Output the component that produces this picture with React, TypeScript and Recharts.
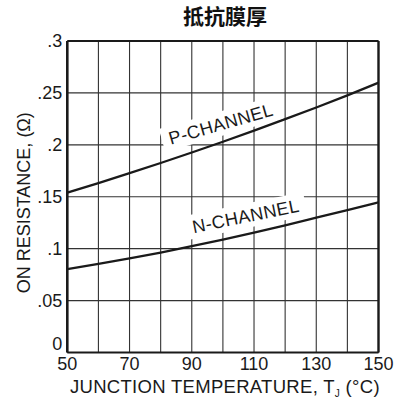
import React from "react";
import {
  LineChart,
  Line,
  XAxis,
  YAxis,
  CartesianGrid,
  ReferenceLine,
  ReferenceDot,
} from "recharts";

const temperatures = [50, 60, 70, 80, 90, 100, 110, 120, 130, 140, 150];
const pChannel = [0.154, 0.1632, 0.1727, 0.1825, 0.1926, 0.203, 0.2137, 0.2247, 0.236, 0.2477, 0.2598];
const nChannel = [0.0804, 0.0853, 0.0906, 0.0963, 0.1024, 0.1088, 0.1155, 0.1225, 0.1298, 0.1372, 0.1447];

const xTicks = [50, 60, 70, 80, 90, 100, 110, 120, 130, 140, 150];
const xTickLabels = ["50", "", "70", "", "90", "", "110", "", "130", "", "150"];
const yTicks = [0, 0.05, 0.1, 0.15, 0.2, 0.25, 0.3];
const yTickLabels = ["0", ".05", ".1", ".15", ".2", ".25", ".3"];

const curveLabelTexts = ["P-CHANNEL", "N-CHANNEL"];
const curveLabelX = [99.3, 107.3];
const curveLabelY = [0.2203, 0.1315];
const curveLabelAngle = [-16, -11.5];

const title = "抵抗膜厚";
const yTitle = "ON RESISTANCE, (Ω)";

const data = temperatures.map((t, i) => ({ t, p: pChannel[i], n: nChannel[i] }));

const FONT = "'Liberation Sans', Arial, Helvetica, sans-serif";
const INK = "#1a1a1a";

const XTick = (props: any) => {
  const { x, y, payload } = props;
  const idx = xTicks.indexOf(payload.value);
  const label = idx >= 0 ? xTickLabels[idx] : "";
  if (!label) return null;
  return (
    <text x={x} y={y} dy={17} textAnchor="middle" fontSize={18} fontFamily={FONT} fill={INK}>
      {label}
    </text>
  );
};

const YTick = (props: any) => {
  const { x, y, payload } = props;
  const idx = yTicks.indexOf(payload.value);
  const label = idx >= 0 ? yTickLabels[idx] : "";
  const dy = payload.value === 0 ? -2.5 : 6;
  return (
    <text x={x} y={y} dy={dy} textAnchor="end" fontSize={18} fontFamily={FONT} fill={INK}>
      {label}
    </text>
  );
};

const XTitle = (props: any) => {
  const vb = props.viewBox || { x: 67, y: 352, width: 312, height: 46 };
  const cx = vb.x + vb.width / 2 + 2;
  return (
    <text
      x={cx}
      y={392.5}
      textAnchor="middle"
      fontSize={18.5}
      letterSpacing={0.3}
      fontFamily={FONT}
      fill={INK}
    >
      <tspan>JUNCTION TEMPERATURE, T</tspan>
      <tspan fontSize={10} dy={4}>J</tspan>
      <tspan fontSize={18.5} dy={-4}>{" (°C)"}</tspan>
    </text>
  );
};

const YTitle = (props: any) => {
  const vb = props.viewBox || { x: 0, y: 41, width: 67, height: 312 };
  const cy = vb.y + vb.height / 2 + 6;
  return (
    <text
      x={30}
      y={cy}
      transform={`rotate(-90, 30, ${cy})`}
      textAnchor="middle"
      fontSize={18}
      fontFamily={FONT}
      fill={INK}
    >
      {yTitle}
    </text>
  );
};

const makeLabelShape = (i: number) => (props: any) => {
  const { cx, cy } = props;
  const w = curveLabelTexts[i].length * 12 + 14;
  return (
    <g transform={`translate(${cx},${cy}) rotate(${curveLabelAngle[i]})`}>
      <rect x={-w / 2} y={-12} width={w} height={24} fill="#ffffff" />
      <text
        x={0}
        y={0}
        dy={6.5}
        textAnchor="middle"
        fontSize={18}
        letterSpacing={0.4}
        fontFamily={FONT}
        fill={INK}
      >
        {curveLabelTexts[i]}
      </text>
    </g>
  );
};

export default function App() {
  return (
    <div style={{ position: "absolute", left: 0, top: 0, width: 396, height: 399, background: "#fff" }}>
      <div
        style={{
          position: "absolute",
          left: 125,
          width: 200,
          top: 0,
          textAlign: "center",
          fontFamily: "'Noto Sans CJK SC', sans-serif",
          fontWeight: 700,
          fontSize: 21,
          color: "#111",
          lineHeight: "normal",
        }}
      >
        {title}
      </div>
      <LineChart
        width={396}
        height={399}
        data={data}
        margin={{ top: 41, right: 17.5, bottom: 0, left: 0 }}
      >
        <CartesianGrid stroke="#333" strokeWidth={1.1} />
        <XAxis
          dataKey="t"
          type="number"
          domain={[50, 150]}
          ticks={xTicks}
          interval={0}
          height={46.5}
          tickSize={0}
          tickMargin={0}
          tickLine={false}
          axisLine={{ stroke: INK, strokeWidth: 2 }}
          tick={<XTick />}
          label={<XTitle />}
        />
        <YAxis
          type="number"
          domain={[0, 0.3]}
          ticks={yTicks}
          interval={0}
          width={67.3}
          tickSize={0}
          tickMargin={5}
          tickLine={false}
          axisLine={{ stroke: INK, strokeWidth: 2.6 }}
          tick={<YTick />}
          label={<YTitle />}
        />
        <ReferenceLine y={0.3} stroke={INK} strokeWidth={2} ifOverflow="visible" />
        <ReferenceLine x={150} stroke={INK} strokeWidth={2.4} ifOverflow="visible" />
        {curveLabelTexts.map((t, i) => (
          <ReferenceDot
            key={t}
            x={curveLabelX[i]}
            y={curveLabelY[i]}
            r={1}
            ifOverflow="visible"
            shape={makeLabelShape(i)}
          />
        ))}
        <Line
          type="monotone"
          dataKey="p"
          stroke={INK}
          strokeWidth={2.3}
          dot={false}
          isAnimationActive={false}
        />
        <Line
          type="monotone"
          dataKey="n"
          stroke={INK}
          strokeWidth={2.3}
          dot={false}
          isAnimationActive={false}
        />
      </LineChart>
    </div>
  );
}
